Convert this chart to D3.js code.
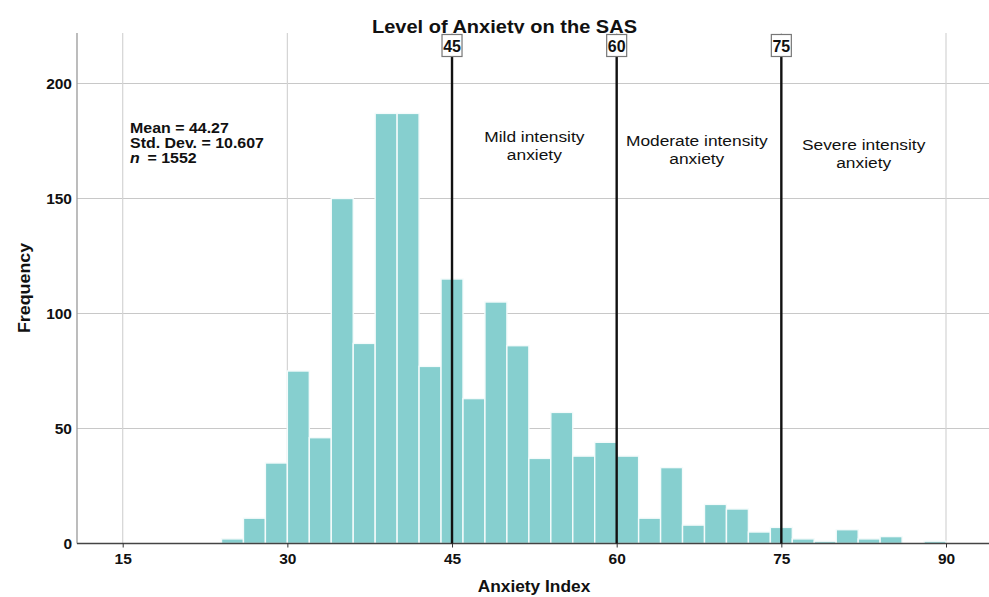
<!DOCTYPE html>
<html><head><meta charset="utf-8">
<script src="https://cdn.jsdelivr.net/npm/d3@7/dist/d3.min.js"></script>
<style>
body{margin:0;background:#fff;}
text{font-family:"Liberation Sans",Arial,sans-serif;}
</style></head>
<body><svg id="c" width="989" height="597"></svg>
<script>
const binStarts = [24,26,28,30,32,34,36,38,40,42,44,46,48,50,52,54,56,58,60,62,64,66,68,70,72,74,76,78,80,82,84,86,88];
const counts    = [2,11,35,75,46,150,87,187,187,77,115,63,105,86,37,57,38,44,38,11,33,8,17,15,5,7,2,1,6,2,3,0,1];
const binWidth = 2;
const xTicks = [15,30,45,60,75,90];
const yTicks = [0,50,100,150,200];
const refLines = [45,60,75];
const zones = [
  {x:52.5, lines:["Mild intensity","anxiety"], y:136.7},
  {x:67.3, lines:["Moderate intensity","anxiety"], y:140},
  {x:82.5, lines:["Severe intensity","anxiety"], y:144.5}
];
const stats = ["Mean = 44.27","Std. Dev. = 10.607","= 1552"];

const svg = d3.select("#c");
const L=77, R=989, T=33, B=543.5;
const x = d3.scaleLinear().domain([15,90]).range([122.7,946]);
const y = d3.scaleLinear().domain([0,200]).range([B,83.5]);

// helper: horizontally stretched text
function stext(parent, px, py, sx, attrs){
  const t = parent.append("text").attr("transform",`translate(${px},${py}) scale(${sx},1)`)
    .attr("fill","#111");
  for (const k in attrs) t.attr(k, attrs[k]);
  return t;
}

svg.append("clipPath").attr("id","tc").append("rect").attr("x",0).attr("y",0).attr("width",989).attr("height",T+0.5);

// gridlines
svg.append("g").selectAll("line").data(yTicks.filter(d=>d>0)).join("line")
  .attr("x1",L).attr("x2",R).attr("y1",d=>y(d)).attr("y2",d=>y(d))
  .attr("stroke","#c8c8c8").attr("stroke-width",1.2);
svg.append("g").selectAll("line").data(xTicks).join("line")
  .attr("x1",d=>x(d)).attr("x2",d=>x(d)).attr("y1",T).attr("y2",B)
  .attr("stroke","#d4d4d4").attr("stroke-width",1.2);

// bars
svg.append("g").selectAll("rect").data(binStarts.map((s,i)=>({s,c:counts[i]})).filter(d=>d.c>0)).join("rect")
  .attr("x",d=>x(d.s)).attr("width",d=>x(d.s+binWidth)-x(d.s))
  .attr("y",d=>y(d.c)).attr("height",d=>B-y(d.c))
  .attr("fill","#86cfcf").attr("stroke","#f4fbfb").attr("stroke-width",1.4);

// axes lines
svg.append("line").attr("x1",L).attr("x2",L).attr("y1",T).attr("y2",B).attr("stroke","#999").attr("stroke-width",1.3);
svg.append("line").attr("x1",L).attr("x2",R).attr("y1",B).attr("y2",B).attr("stroke","#444").attr("stroke-width",1.3);

// x axis ticks & labels
const xa = d3.axisBottom(x).tickValues(xTicks).tickSize(4).tickPadding(4).tickFormat(d3.format("d"));
const gx = svg.append("g").attr("transform",`translate(0,${B})`).call(xa);
gx.select(".domain").remove();
gx.selectAll(".tick line").attr("stroke","#333");
gx.selectAll("text").attr("font-size",15.5).attr("font-weight","bold").attr("fill","#111")
  .attr("y",20).attr("dy",null);

// y axis labels
const ya = d3.axisLeft(y).tickValues(yTicks).tickSize(0).tickPadding(5).tickFormat(d3.format("d"));
const gy = svg.append("g").attr("transform",`translate(${L},0)`).call(ya);
gy.select(".domain").remove();
gy.selectAll("text").attr("font-size",15.5).attr("font-weight","bold").attr("fill","#111");

// reference lines
const rg = svg.append("g");
rg.selectAll("line").data(refLines).join("line")
  .attr("x1",d=>x(d)).attr("x2",d=>x(d)).attr("y1",56.5).attr("y2",B)
  .attr("stroke","#111").attr("stroke-width",2.4);
rg.selectAll("rect").data(refLines).join("rect")
  .attr("x",d=>x(d)-10).attr("y",34.5).attr("width",20).attr("height",22)
  .attr("fill","#fff").attr("stroke","#777").attr("stroke-width",1.2);
refLines.forEach(v=>{
  stext(rg, x(v), 52, 0.94, {"text-anchor":"middle","font-size":17,"font-weight":"bold"}).text(v);
});

// zone labels
zones.forEach(z=>{
  z.lines.forEach((s,i)=>{
    stext(svg, x(z.x), z.y+5.5+i*18, 1.12, {"text-anchor":"middle","font-size":15.5}).text(s);
  });
});

// stats
stext(svg,130,133,1.1,{"font-size":14.5,"font-weight":"bold"}).text(stats[0]);
stext(svg,130,148,1.1,{"font-size":14.5,"font-weight":"bold"}).text(stats[1]);
stext(svg,130,163,1.1,{"font-size":14.5,"font-weight":"bold","font-style":"italic"}).text("n");
stext(svg,147.5,163,1.1,{"font-size":14.5,"font-weight":"bold"}).text(stats[2]);

// title
const tg = svg.append("g").attr("clip-path","url(#tc)");
stext(tg,504.5,32.5,1.144,{"text-anchor":"middle","font-size":17.5,"font-weight":"bold"}).text("Level of Anxiety on the SAS");

// axis titles
stext(svg,534,591.5,1.05,{"text-anchor":"middle","font-size":16.5,"font-weight":"bold"}).text("Anxiety Index");
svg.append("text").attr("transform","translate(30,288) rotate(-90) scale(1.05,1)").attr("text-anchor","middle")
  .attr("font-size",17).attr("font-weight","bold").attr("fill","#111").text("Frequency");
</script></body></html>
